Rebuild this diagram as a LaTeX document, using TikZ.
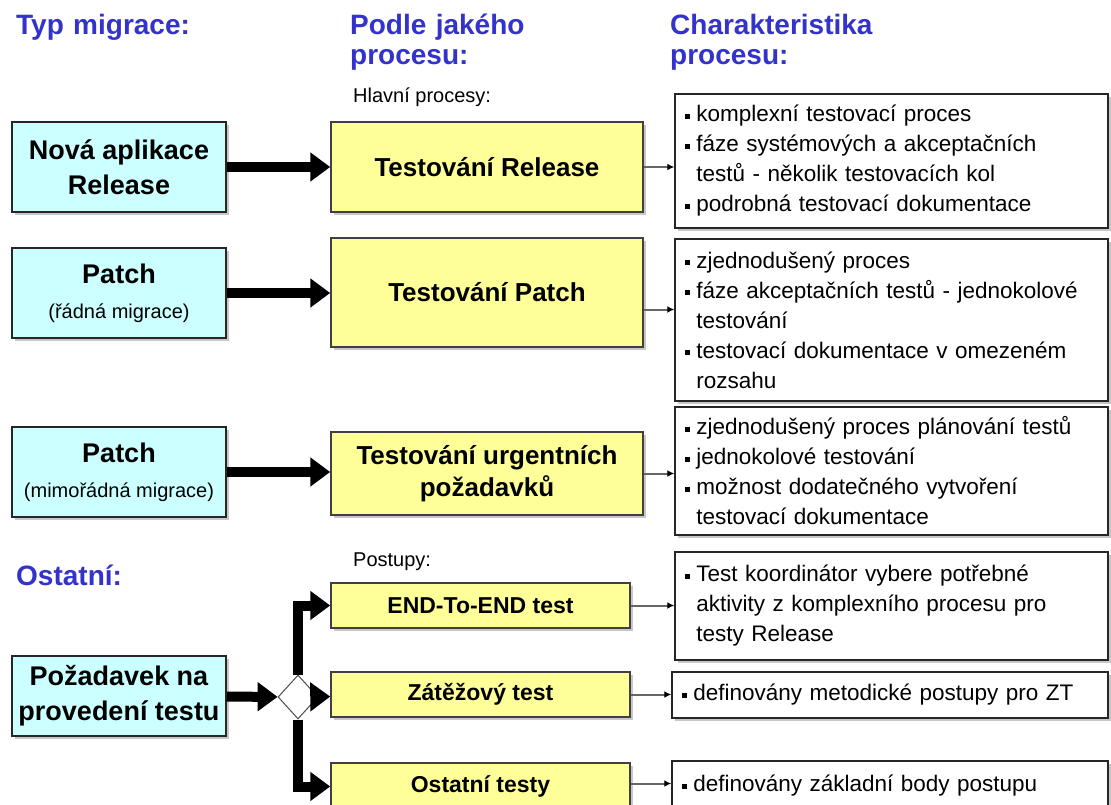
\documentclass[tikz,border=0pt]{standalone}
\usepackage{fontspec}
\setmainfont{Liberation Sans}
\usetikzlibrary{arrows.meta,positioning,shapes.geometric,shadows}
\definecolor{migcyan}{HTML}{CCFFFF}
\definecolor{procyellow}{HTML}{FFFF99}
\definecolor{headblue}{HTML}{3333CC}
\newcommand{\bul}{\makebox[0.5em][l]{\rule[0.13em]{0.24em}{0.24em}}}
\newcommand{\cont}{\hspace*{0.5em}}
\newcommand{\subline}{\normalfont\fontsize{20}{24}\selectfont}

\begin{document}
\begin{tikzpicture}[x=1pt,y=-1pt,
  heading/.style={anchor=base west,inner sep=0pt,text width=320pt,align=left,text=headblue,font=\fontsize{28}{30}\selectfont\bfseries},
  note/.style={anchor=base west,inner sep=0pt,font=\fontsize{20}{24}\selectfont},
  shadowed/.style={drop shadow={shadow xshift=3pt,shadow yshift=-3pt,fill=black!22,opacity=1}},
  migbox/.style={shadowed,draw=black!85,line width=1.5pt,fill=migcyan,minimum width=214pt,align=center,font=\fontsize{27}{35}\selectfont\bfseries},
  procbox/.style={shadowed,draw=black!75,line width=1.5pt,fill=procyellow,align=center,font=\fontsize{26}{32}\selectfont\bfseries},
  charbox/.style={shadowed,draw=black!85,line width=1.5pt,fill=white,minimum width=433pt,text width=413pt,inner xsep=10pt,align=left,font=\fontsize{22.5}{30}\selectfont},
  bigarrow/.style={line width=10pt,-{Triangle[length=20pt,width=28pt]}},
  smallarrow/.style={draw=black!60,line width=2pt,-{Latex[length=7pt,width=7pt,color=black]}}]
\useasboundingbox (0,0) rectangle (1111,805);
\fill[white] (0,0) rectangle (1111,805);
\clip (0,0) rectangle (1111,805);

\node[heading] (typ) at (16,35) {Typ migrace:};
\node[heading] (podle) at (350,35) {Podle jakého\\procesu:};
\node[heading] (charakt) at (670,35) {Charakteristika\\procesu:};
\node[heading] (ostatni) at (16,585) {Ostatní:};
\node[note] (hlavni) at (353,103) {Hlavní procesy:};
\node[note] (postupy) at (353,566) {Postupy:};

\node[migbox,minimum height=90pt] (nova) at (119,167) {Nová aplikace\\Release};
\node[migbox,minimum height=90pt] (patchr) at (119,293) {Patch\\{\subline (řádná migrace)}};
\node[migbox,minimum height=90pt] (patchm) at (119,472) {Patch\\{\subline (mimořádná migrace)}};
\node[migbox,minimum height=80pt] (req) at (119,696) {Požadavek na\\provedení testu};

\node[procbox,minimum width=312pt,minimum height=90pt] (trel) at (487,167) {Testování Release};
\node[procbox,minimum width=312pt,minimum height=109pt] (tpat) at (487,292.5) {Testování Patch};
\node[procbox,minimum width=312pt,minimum height=83pt] (turg) at (487,473.5) {Testování urgentních\\požadavků};
\node[procbox,minimum width=299pt,minimum height=45pt,font=\fontsize{23}{26}\selectfont\bfseries] (e2e) at (480.5,605.5) {END-To-END test};
\node[procbox,minimum width=299pt,minimum height=45pt,font=\fontsize{23}{26}\selectfont\bfseries] (zat) at (480.5,694.5) {Zátěžový test};
\node[procbox,minimum width=299pt,minimum height=47pt,font=\fontsize{23}{26}\selectfont\bfseries] (ost) at (480.5,786.5) {Ostatní testy};

\node[charbox,minimum height=134pt] (ch1) at (891.5,161) {\bul komplexní testovací proces\\\bul fáze systémových a akceptačních\\\cont testů - několik testovacích kol\\\bul podrobná testovací dokumentace};
\node[charbox,minimum height=162pt] (ch2) at (891.5,320) {\bul zjednodušený proces\\\bul fáze akceptačních testů - jednokolové\\\cont testování\\\bul testovací dokumentace v omezeném\\\cont rozsahu};
\node[charbox,minimum height=128pt] (ch3) at (891.5,471) {\bul zjednodušený proces plánování testů\\\bul jednokolové testování\\\bul možnost dodatečného vytvoření\\\cont testovací dokumentace};
\node[charbox,minimum height=108pt] (ch4) at (891.5,606) {\bul Test koordinátor vybere potřebné\\\cont aktivity z komplexního procesu pro\\\cont testy Release};
\node[charbox,minimum width=436pt,text width=416pt,minimum height=46pt] (ch5) at (890,695) {\bul definovány metodické postupy pro ZT};
\node[charbox,minimum width=436pt,text width=416pt,minimum height=50pt] (ch6) at (890,786) {\bul definovány základní body postupu};

\node[diamond,draw=black!70,fill=white,line width=1pt,minimum width=40pt,minimum height=44pt,inner sep=0pt] (split) at (298,697) {};

\draw[bigarrow] (nova) -- (trel);
\draw[bigarrow] (patchr) -- (tpat.west |- patchr);
\draw[bigarrow] (patchm) -- (turg.west |- patchm);
\draw[bigarrow] (req) -- (split);
\draw[bigarrow] (split.north) |- (e2e.west);
\draw[bigarrow] (split) -- (zat);
\draw[bigarrow] (split.south) |- (ost.west);

\coordinate (tpatout) at ([yshift=-17pt]tpat.east);
\draw[smallarrow] (trel.east) -- (trel.east -| ch1.west);
\draw[smallarrow] (tpatout) -- (tpatout -| ch2.west);
\draw[smallarrow] (turg.east) -- (turg.east -| ch3.west);
\draw[smallarrow] (e2e.east) -- (e2e.east -| ch4.west);
\draw[smallarrow] (zat.east) -- (zat.east -| ch5.west);
\draw[smallarrow] ([yshift=3pt]ost.east) -- ([yshift=3pt]ost.east -| ch6.west);
\end{tikzpicture}
\end{document}
